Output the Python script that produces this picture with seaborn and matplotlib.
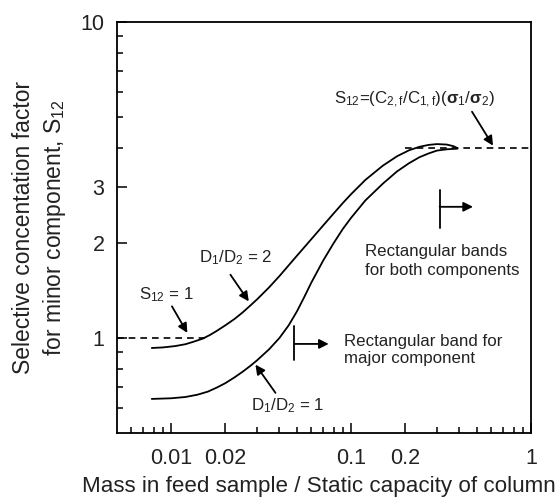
import numpy as np
import pandas as pd
import matplotlib
matplotlib.use("Agg")
import matplotlib.pyplot as plt
import seaborn as sns

# ---- data ----
x_d2 = [0.0078, 0.009, 0.0105, 0.012, 0.0135, 0.015, 0.0165, 0.018, 0.020, 0.0225,
        0.025, 0.0275, 0.030, 0.035, 0.040, 0.050, 0.060, 0.070, 0.080, 0.090,
        0.100, 0.120, 0.150, 0.180, 0.210, 0.240, 0.270, 0.300, 0.340, 0.370, 0.390]
y_d2 = [0.929, 0.933, 0.942, 0.955, 0.975, 0.995, 1.023, 1.054, 1.096, 1.148,
        1.205, 1.265, 1.324, 1.445, 1.570, 1.820, 2.051, 2.270, 2.477, 2.673,
        2.851, 3.162, 3.508, 3.758, 3.926, 4.027, 4.083, 4.107, 4.093, 4.046, 3.990]

x_d1 = [0.0078, 0.010, 0.012, 0.014, 0.016, 0.018, 0.020, 0.0225, 0.025, 0.0275,
        0.030, 0.035, 0.040, 0.045, 0.050, 0.055, 0.060, 0.070, 0.080, 0.090,
        0.100, 0.120, 0.150, 0.180, 0.210, 0.240, 0.270, 0.300, 0.340, 0.390]
y_d1 = [0.641, 0.644, 0.650, 0.661, 0.676, 0.697, 0.719, 0.750, 0.782, 0.815,
        0.849, 0.920, 1.000, 1.096, 1.213, 1.349, 1.493, 1.758, 1.995, 2.213,
        2.399, 2.723, 3.076, 3.365, 3.573, 3.733, 3.837, 3.917, 3.954, 3.972]

series_names = ["D1/D2 = 2", "D1/D2 = 1"]

s12_low = 1.0          # S12 = 1 reference level
s12_low_x = [0.005, 0.0155]
s12_high = 4.0         # S12 = (C2f/C1f)(s1/s2) plateau
s12_high_x = [0.2, 1.0]

xticks = [0.01, 0.02, 0.1, 0.2, 1]
xticklabels = ["0.01", "0.02", "0.1", "0.2", "1"]
xminor = [0.006, 0.007, 0.008, 0.009, 0.03, 0.04, 0.05, 0.06, 0.07, 0.08, 0.09,
          0.3, 0.4, 0.5, 0.6, 0.7, 0.8, 0.9]
yticks = [1, 2, 3, 10]
yticklabels = ["1", "2", "3", "10"]
yminor = [0.6, 0.7, 0.8, 0.9, 4, 5, 6, 7, 8, 9]

df = pd.DataFrame({
    "x": x_d2 + x_d1,
    "y": y_d2 + y_d1,
    "series": [series_names[0]] * len(x_d2) + [series_names[1]] * len(x_d1),
})

# ---- style ----
sns.set_theme(style="white")
plt.rcParams["font.family"] = ["Liberation Sans", "DejaVu Sans"]
plt.rcParams["mathtext.fontset"] = "custom"
plt.rcParams["mathtext.rm"] = "Liberation Sans"
plt.rcParams["mathtext.it"] = "Liberation Sans:italic"
plt.rcParams["mathtext.bf"] = "Liberation Sans:bold"
plt.rcParams["mathtext.default"] = "regular"

TXT = "#222222"
fig = plt.figure(figsize=(5.6, 5.0), dpi=100)
ax = fig.add_axes([117 / 560, 1 - 433 / 500, (531 - 117) / 560, (433 - 22) / 500])

sns.lineplot(data=df, x="x", y="y", hue="series", palette=["black", "black"],
             estimator=None, sort=False, legend=False, linewidth=1.3, ax=ax)
for ln in ax.get_lines():
    ln.set_solid_joinstyle("round")

ax.plot(s12_low_x, [s12_low, s12_low], color="black", lw=1.2, ls=(0, (4, 3)))
ax.plot(s12_high_x, [s12_high, s12_high], color="black", lw=1.2, ls=(0, (4, 3)))

ax.set_xscale("log")
ax.set_yscale("log")
ax.set_xlim(0.005, 1)
ax.set_ylim(0.5, 10)

ax.set_xticks(xticks, xticklabels)
ax.set_xticks(xminor, minor=True)
ax.set_yticks(yticks, yticklabels)
ax.set_yticks(yminor, minor=True)
ax.xaxis.set_minor_formatter(matplotlib.ticker.NullFormatter())
ax.yaxis.set_minor_formatter(matplotlib.ticker.NullFormatter())

ax.tick_params(which="both", direction="in", bottom=True, left=True, top=False,
               right=False, color="black", width=1.1)
ax.tick_params(which="major", length=7, labelsize=15.5, labelcolor=TXT)
ax.tick_params(axis="x", which="major", pad=11)
ax.tick_params(axis="y", which="major", pad=9)
ax.tick_params(which="minor", length=4)
for sp in ax.spines.values():
    sp.set_visible(True)
    sp.set_color("black")
    sp.set_linewidth(1.3)

ax.set_xlabel("Mass in feed sample / Static capacity of column", fontsize=16.1,
              color=TXT)
ax.xaxis.set_label_coords(0.488, -0.105)
ax.set_ylabel("Selective concentation factor\nfor minor component, S$_{12}$",
              fontsize=16.5, color=TXT, linespacing=1.3)
ax.yaxis.set_label_coords(-0.118, 0.5)

# ---- annotations ----
FS = 12.2
arrow = dict(arrowstyle="-|>", color="black", lw=1.3, mutation_scale=14,
             shrinkA=0, shrinkB=0)

ax.text(0.225, 5.67, r"S$_{12}$=(C$_{2,f}$/C$_{1,f}$)($\mathbf{σ}_1$/$\mathbf{σ}_2$)",
        fontsize=FS, color=TXT, ha="center", va="center")
ax.annotate("", xy=(0.615, 4.06), xytext=(0.47, 5.2), arrowprops=arrow)

ax.text(0.0228, 1.795, "D$_1$/D$_2$ = 2", fontsize=FS, color=TXT,
        ha="center", va="center")
ax.annotate("", xy=(0.0270, 1.305), xytext=(0.02135, 1.585), arrowprops=arrow)

ax.text(0.0094, 1.37, "S$_{12}$ = 1", fontsize=FS, color=TXT,
        ha="center", va="center")
ax.annotate("", xy=(0.0123, 1.037), xytext=(0.0101, 1.259), arrowprops=arrow)

ax.text(0.0441, 0.611, "D$_1$/D$_2$ = 1", fontsize=FS, color=TXT,
        ha="center", va="center")
ax.annotate("", xy=(0.0294, 0.823), xytext=(0.0380, 0.670), arrowprops=arrow)

ax.text(0.120, 1.75, "Rectangular bands\nfor both components", fontsize=FS,
        color=TXT, ha="left", va="center", linespacing=1.3)
ax.plot([0.3106, 0.3106], [2.23, 2.94], color="black", lw=1.3)
ax.annotate("", xy=(0.476, 2.60), xytext=(0.3106, 2.60), arrowprops=arrow)

ax.text(0.0918, 0.918, "Rectangular band for\nmajor component", fontsize=FS,
        color=TXT, ha="left", va="center", linespacing=1.15)
ax.plot([0.0484, 0.0484], [0.854, 1.088], color="black", lw=1.3)
ax.annotate("", xy=(0.0751, 0.957), xytext=(0.0484, 0.957), arrowprops=arrow)

fig.savefig("out.png", dpi=100)
